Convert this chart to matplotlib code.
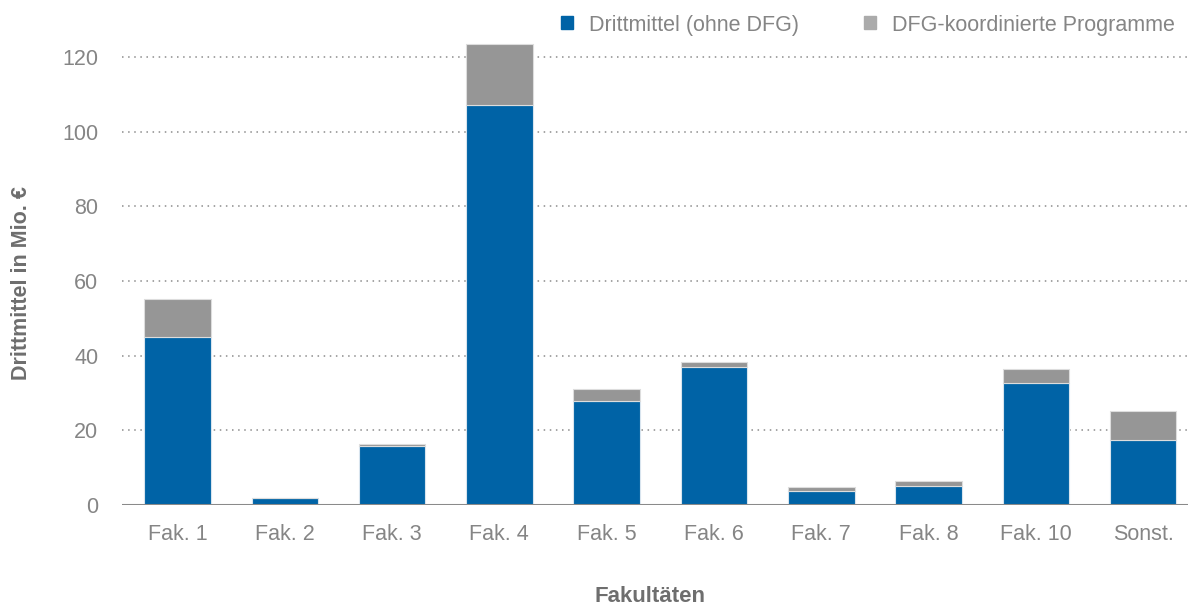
import numpy as np
import matplotlib.pyplot as plt

fakultaeten = ["Fak. 1", "Fak. 2", "Fak. 3", "Fak. 4", "Fak. 5",
               "Fak. 6", "Fak. 7", "Fak. 8", "Fak. 10", "Sonst."]
ohne_dfg = [45.0, 2.0, 15.9, 107.1, 27.9, 37.0, 3.75, 5.2, 32.8, 17.5]
dfg_koord = [10.2, 0.0, 0.4, 16.4, 3.2, 1.3, 1.05, 1.1, 3.6, 7.6]
yticks = [0, 20, 40, 60, 80, 100, 120]

blau = "#0063a6"
grau = "#969696"
text_grau = "#858585"

plt.rcParams['font.family'] = ['Liberation Sans', 'DejaVu Sans']

fig = plt.figure(figsize=(11.88, 6.06), dpi=100)
ax = fig.add_axes([0.1027, 0.1667, 0.8973, 0.77])

x = np.arange(len(fakultaeten))
b1 = ax.bar(x, ohne_dfg, width=0.62, color=blau, edgecolor="#d8e4ee",
            linewidth=0.8, label="Drittmittel (ohne DFG)", zorder=3)
b2 = ax.bar(x, dfg_koord, width=0.62, bottom=ohne_dfg, color=grau,
            edgecolor="#dddddd", linewidth=0.8,
            label="DFG-koordinierte Programme", zorder=3)

ax.set_xlim(-0.517, 9.418)
ax.set_ylim(0, 125)
ax.set_yticks(yticks)
ax.set_xticks(x)
ax.set_xticklabels(fakultaeten)
ax.tick_params(axis='both', length=0, labelsize=15.5, colors=text_grau)
ax.tick_params(axis='x', pad=14)
ax.tick_params(axis='y', pad=17)

for v in yticks[1:]:
    ax.axhline(v, color="#8c8c8c", linestyle=(0, (1, 3)), linewidth=1.1, zorder=1)
ax.axhline(0, color="#8a8a8a", linewidth=2.2, zorder=4)

for s in ax.spines.values():
    s.set_visible(False)

fig.text(0.0185, 0.533, "Drittmittel in Mio. €", rotation=90, ha='center',
         va='center', fontsize=15.5, fontweight='bold', color="#6e6e6e")
fig.text(0.547, 0.0066, "Fakultäten", ha='center', va='baseline',
         fontsize=16, fontweight='bold', color="#6e6e6e")

leg_handles = [plt.Rectangle((0, 0), 1, 1, color=blau),
               plt.Rectangle((0, 0), 1, 1, color="#ababab")]
fig.legend(leg_handles, ["Drittmittel (ohne DFG)", "DFG-koordinierte Programme"],
           loc='upper right', bbox_to_anchor=(1.005, 1.008), ncol=2, frameon=False,
           fontsize=15.5, labelcolor=text_grau, handlelength=0.55, handleheight=0.55,
           handletextpad=0.75, columnspacing=3.0)

fig.savefig("out.png", dpi=100)
